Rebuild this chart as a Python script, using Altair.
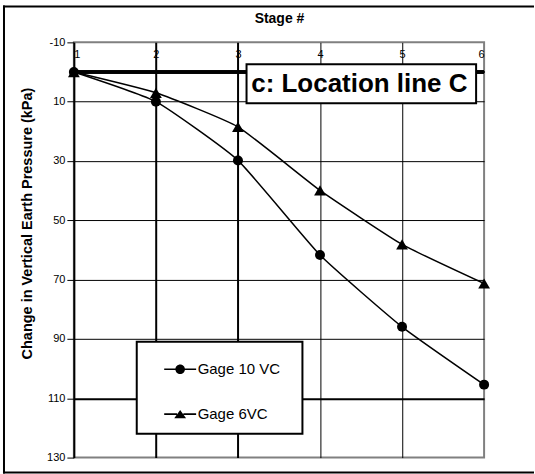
import altair as alt
import pandas as pd

stages = [1, 2, 3, 4, 5, 6]
gage10 = [0, 10, 29.8, 61.7, 85.9, 105.4]
gage6 = [0, 7.0, 18.5, 39.9, 58.1, 71.3]
series_names = ["Gage 10 VC", "Gage 6VC"]
y_ticks = [-10, 10, 30, 50, 70, 90, 110, 130]
annotation = "c: Location line C"
x_title = "Stage #"
y_title = "Change in Vertical Earth Pressure (kPa)"

FONT = "Liberation Sans"
PAD = "\u2800"  # blank glyph (not trimmed) giving room on the legend's right

df = pd.DataFrame({
    "stage": stages * 2,
    "value": gage10 + gage6,
    "series": [series_names[0]] * len(stages) + [series_names[1]] * len(stages),
})

W, H = 411, 416

x_scale = alt.Scale(domain=[1, 6], nice=False, zero=False)
y_scale = alt.Scale(domain=[-10, 130], reverse=True, nice=False, zero=False)

x_axis = alt.Axis(
    orient="top", values=stages, title=x_title, titleFont=FONT, titleFontSize=14,
    titleFontWeight="bold", titleColor="black", titleX=W / 2, titleY=-24,
    titleBaseline="middle", titleAnchor="middle",
    labelFont=FONT, labelFontSize=11, labelColor="black", labelPadding=-17,
    labelExpr="'' + datum.value",
    ticks=False, tickSize=0, domain=False,
    grid=True,
    gridColor={"condition": {"test": "datum.value == 1 || datum.value == 6", "value": "transparent"}, "value": "black"},
    gridWidth={"condition": {"test": "datum.value == 2 || datum.value == 3", "value": 2}, "value": 1},
    gridOpacity=1,
)

y_axis = alt.Axis(
    values=y_ticks, title=y_title, titleFont=FONT, titleFontSize=14.5,
    titleFontWeight="bold", titleColor="black", titleAngle=-90,
    titleX=-46, titleY=181, titleBaseline="middle", titleAnchor="middle",
    labelFont=FONT, labelFontSize=11, labelColor="black", labelPadding=2,
    labelExpr="'' + datum.value",
    tickSize=7, tickColor="black", tickWidth=1,
    domainColor="black", domainWidth=2,
    grid=True,
    gridColor={"condition": {"test": "datum.value == -10 || datum.value == 130", "value": "transparent"}, "value": "black"},
    gridWidth={"condition": {"test": "datum.value == 110", "value": 2}, "value": 1},
    gridOpacity=1,
)

base = alt.Chart(df)

zero_line = base.mark_rule(color="black", strokeWidth=2.5).encode(
    y=alt.datum(0, scale=y_scale, axis=y_axis)
)

lines = base.mark_line(color="black", strokeWidth=1.5, interpolate="cardinal", tension=0.55).encode(
    x=alt.X("stage:Q", scale=x_scale, axis=x_axis),
    y=alt.Y("value:Q", scale=y_scale, axis=y_axis),
    detail="series:N",
)

circles = base.transform_filter(alt.datum.series == series_names[0]).mark_point(
    shape="circle", filled=True, color="black", size=100, opacity=1
).encode(x="stage:Q", y="value:Q")

triangles = base.transform_filter(alt.datum.series == series_names[1]).mark_point(
    shape="triangle-up", filled=True, color="black", size=140, opacity=1
).encode(x="stage:Q", y="value:Q")

# legend glyphs: a short horizontal bar on each side of the marker, all filled
circle_path = ("M-1,-0.05H-0.28V0.05H-1Z M0.28,-0.05H1V0.05H0.28Z "
               "M0.3,0A0.3,0.3,0,1,1,-0.3,0A0.3,0.3,0,1,1,0.3,0Z")
tri_path = ("M-1,-0.05H-0.2V0.05H-1Z M0.2,-0.05H1V0.05H0.2Z "
            "M0,-0.26L0.37,0.25L-0.37,0.25Z")

legend_layer = base.transform_filter("false").mark_point(
    filled=True, color="black", opacity=1
).encode(
    x="stage:Q", y="value:Q",
    shape=alt.Shape(
        "series:N",
        scale=alt.Scale(domain=[n + PAD for n in series_names], range=[circle_path, tri_path]),
        legend=alt.Legend(
            title=None, orient="none", legendX=63, legendY=300,
            symbolSize=1024, symbolFillColor="black", symbolStrokeColor="black",
            symbolStrokeWidth=0.5, symbolOpacity=1,
            labelFont=FONT, labelFontSize=15, labelColor="black", labelOffset=1,
            labelLimit=300, padding=11, rowPadding=20, symbolOffset=16,
            strokeColor="black", fillColor="white",
        ),
    ),
)

one = alt.Chart(pd.DataFrame({"a": [0]}))

ann_box = one.mark_rect(fill="white", stroke="black", strokeWidth=2).encode(
    x=alt.value(173), x2=alt.value(403), y=alt.value(22), y2=alt.value(61)
)
ann_text = one.mark_text(
    text=annotation, font=FONT, fontSize=26, fontWeight="bold", color="black",
    align="center", baseline="middle"
).encode(x=alt.value(286), y=alt.value(42))

frame_top = one.mark_rule(color="black", strokeWidth=2).encode(
    x=alt.value(-71), x2=alt.value(461), y=alt.value(-36)
)
frame_bottom = one.mark_rule(color="black", strokeWidth=2).encode(
    x=alt.value(-71), x2=alt.value(461), y=alt.value(431)
)
frame_left = one.mark_rule(color="black", strokeWidth=2).encode(
    x=alt.value(-70), y=alt.value(-37), y2=alt.value(432)
)

chart = alt.layer(
    zero_line, lines, circles, triangles, legend_layer, ann_box, ann_text,
    frame_top, frame_bottom, frame_left
).properties(
    width=W, height=H,
    padding={"left": 2, "top": 4, "right": 0, "bottom": 1},
    background="white",
).configure_view(
    stroke="#808080", strokeWidth=2
).configure_legend(strokeWidth=2)

chart.save("out.html", embed_options={"renderer": "svg", "actions": False})
